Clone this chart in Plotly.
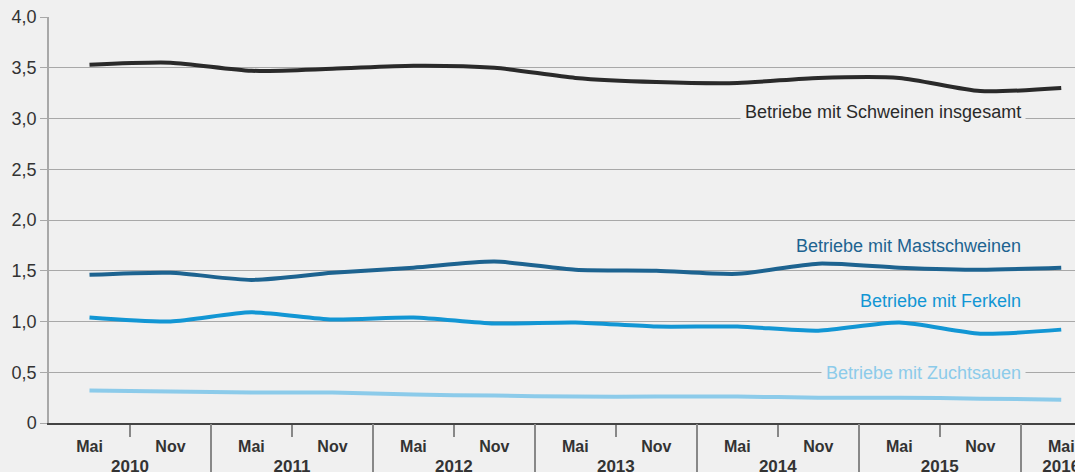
import plotly.graph_objects as go

# Erhebungszeitpunkte (Mai / Nov) je Jahr
jahre = ["2010", "2010", "2011", "2011", "2012", "2012", "2013", "2013",
         "2014", "2014", "2015", "2015", "2016"]
monate = ["Mai", "Nov", "Mai", "Nov", "Mai", "Nov", "Mai", "Nov",
          "Mai", "Nov", "Mai", "Nov", "Mai"]

# Betriebe in Tausend
schweine_gesamt = [3.53, 3.55, 3.47, 3.49, 3.52, 3.50, 3.40, 3.36, 3.35, 3.40, 3.40, 3.27, 3.30]
mastschweine = [1.46, 1.48, 1.41, 1.48, 1.53, 1.59, 1.51, 1.50, 1.47, 1.57, 1.53, 1.51, 1.53]
ferkel = [1.04, 1.00, 1.09, 1.02, 1.04, 0.98, 0.99, 0.95, 0.95, 0.91, 0.99, 0.88, 0.92]
zuchtsauen = [0.32, 0.31, 0.30, 0.30, 0.28, 0.27, 0.26, 0.26, 0.26, 0.25, 0.25, 0.24, 0.23]

y_ticks = [0, 0.5, 1.0, 1.5, 2.0, 2.5, 3.0, 3.5, 4.0]
y_ticklabels = ["0", "0,5", "1,0", "1,5", "2,0", "2,5", "3,0", "3,5", "4,0"]

BG = "#f0f0f0"
FONT = "Liberation Sans, Arial, sans-serif"

# Positionen auf der Zeitachse
pos = list(range(len(monate)))
jahr_liste = list(dict.fromkeys(jahre))
jahr_mitte = [sum(i for i, j in zip(pos, jahre) if j == jj) / jahre.count(jj) for jj in jahr_liste]
halbjahr_grenzen = [i + 0.5 for i in pos[:-1]]
jahr_grenzen = [i + 0.5 for i in pos[:-1] if jahre[i] != jahre[i + 1]]
x_bereich = [-0.5, 12.17]

serien = [
    ("Betriebe mit Schweinen insgesamt", schweine_gesamt, "#2a2a2a"),
    ("Betriebe mit Mastschweinen", mastschweine, "#1d6390"),
    ("Betriebe mit Ferkeln", ferkel, "#1296d4"),
    ("Betriebe mit Zuchtsauen", zuchtsauen, "#8ccbea"),
]

fig = go.Figure()
for name, werte, farbe in serien:
    fig.add_trace(go.Scatter(
        x=pos, y=werte, mode="lines", name=name,
        line=dict(color=farbe, width=4, shape="spline", smoothing=0.7),
        customdata=[f"{m} {j}" for m, j in zip(monate, jahre)],
        hovertemplate="%{customdata}: %{y}<extra>" + name + "</extra>",
    ))

# Beschriftungen rechtsbündig neben den Linien
beschriftungen = [
    ("Betriebe mit Schweinen insgesamt", 3.06, "#2a2a2a"),
    ("Betriebe mit Mastschweinen", 1.74, "#1d6390"),
    ("Betriebe mit Ferkeln", 1.20, "#1296d4"),
    ("Betriebe mit Zuchtsauen", 0.49, "#8ccbea"),
]
for text, yv, farbe in beschriftungen:
    fig.add_annotation(
        x=0.952, xref="paper", xanchor="right", y=yv, yref="y", yanchor="middle",
        text=text, showarrow=False, bgcolor=BG, borderpad=4,
        font=dict(family=FONT, size=18, color=farbe),
    )

fig.update_layout(
    width=1075, height=472,
    margin=dict(l=49, r=0, t=17, b=49, autoexpand=False),
    paper_bgcolor=BG, plot_bgcolor=BG,
    showlegend=False,
    font=dict(family=FONT, size=14, color="#333333"),
    # Monatszeile mit kurzen Halbjahresstrichen
    xaxis=dict(
        range=x_bereich, automargin=False, ticklabeloverflow="allow",
        tickmode="array", tickvals=pos, ticktext=monate, ticks="",
        ticklabelstandoff=8,
        tickfont=dict(family=FONT, size=16, color="#333333", weight="bold"),
        showgrid=False, zeroline=False,
        showline=True, linecolor="#444444", linewidth=2,
        minor=dict(tickmode="array", tickvals=halbjahr_grenzen, ticks="outside",
                   ticklen=12, tickcolor="#888888", tickwidth=1.5, showgrid=False),
    ),
    # Jahreszeile mit langen Trennstrichen
    xaxis2=dict(
        range=x_bereich, overlaying="x", anchor="y", side="bottom",
        automargin=False, ticklabeloverflow="allow",
        tickmode="array", tickvals=jahr_mitte, ticktext=jahr_liste, ticks="",
        ticklabelstandoff=31,
        tickfont=dict(family=FONT, size=17, color="#333333", weight="bold"),
        showgrid=False, zeroline=False, showline=False,
        minor=dict(tickmode="array", tickvals=jahr_grenzen, ticks="outside",
                   ticklen=50, tickcolor="#888888", tickwidth=1.5, showgrid=False),
    ),
    yaxis=dict(
        range=[0, 4], tickvals=y_ticks, ticktext=y_ticklabels, automargin=False,
        showgrid=True, gridcolor="#a8a8a8", gridwidth=1.2,
        zeroline=False,
        showline=True, linecolor="#a8a8a8", linewidth=1.5,
        ticks="outside", ticklen=7, tickcolor="#a8a8a8",
        tickfont=dict(family=FONT, size=18, color="#333333"),
    ),
)
# unsichtbare Spur, damit die Jahresachse gezeichnet wird
fig.add_trace(go.Scatter(x=[pos[0]], y=[None], xaxis="x2", yaxis="y",
                         showlegend=False, hoverinfo="skip"))

fig.write_html("out.html")
